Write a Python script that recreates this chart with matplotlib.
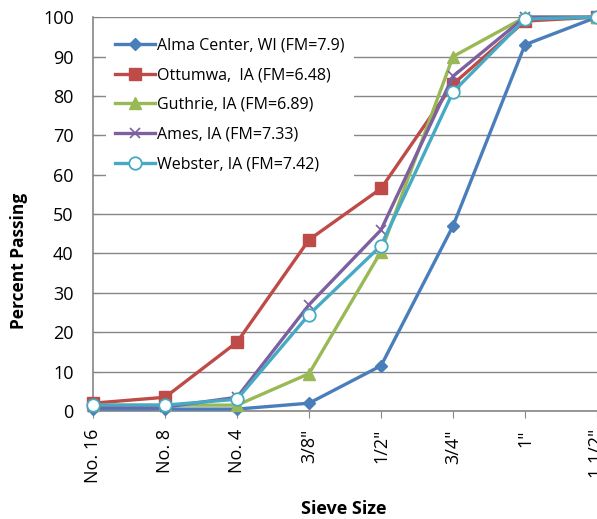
import matplotlib
matplotlib.use("Agg")
from matplotlib import pyplot as plt

plt.rcParams['font.family'] = ['Open Sans', 'DejaVu Sans']

sieves = ['No. 16', 'No. 8', 'No. 4', '3/8"', '1/2"', '3/4"', '1"', '1 1/2"']

alma = [0.5, 0.5, 0.5, 2, 11.5, 47, 93, 100]
ottumwa = [2, 3.5, 17.5, 43.5, 56.5, 83, 99, 100]
guthrie = [1.5, 1.5, 1.5, 9.5, 40.5, 90, 100, 100]
ames = [1, 1, 3.5, 27, 46, 85, 100, 100]
webster = [1.5, 1.5, 3, 24.5, 42, 81, 99.5, 100]

series_names = ['Alma Center, WI (FM=7.9)', 'Ottumwa,  IA (FM=6.48)', 'Guthrie, IA (FM=6.89)',
                'Ames, IA (FM=7.33)', 'Webster, IA (FM=7.42)']

fig = plt.figure(figsize=(5.97, 5.19), dpi=100)
ax = fig.add_axes([0.156, 0.208, 0.844, 0.759])

x = list(range(len(sieves)))
lw = 2.4
kw = dict(lw=lw, zorder=3, clip_on=False)
ax.plot(x, alma, color='#4A7EBB', marker='D', ms=6.5, label=series_names[0], **kw)
ax.plot(x, ottumwa, color='#BE4B48', marker='s', ms=8.5, label=series_names[1], **kw)
ax.plot(x, guthrie, color='#98B954', marker='^', ms=8.5, label=series_names[2], **kw)
ax.plot(x, ames, color='#7D60A0', marker='x', ms=7, mew=1.2, label=series_names[3], **kw)
ax.plot(x, webster, color='#46AAC5', marker='o', ms=9, mfc='white', mew=1.3,
        label=series_names[4], **kw)

ax.set_xlim(0, 7)
ax.set_ylim(0, 100)
ax.set_yticks(range(0, 101, 10))
ax.set_xticks(x)
ax.set_xticklabels(sieves, rotation=90, fontsize=13)
ax.tick_params(axis='y', direction='in', length=5, pad=14, labelsize=13, color='#868686')
ax.tick_params(axis='x', direction='out', length=5, pad=8, color='#868686')

ax.grid(axis='y', color='#868686', lw=1)
ax.set_axisbelow(True)
for s in ['top', 'right']:
    ax.spines[s].set_visible(False)
for s in ['left', 'bottom']:
    ax.spines[s].set_color('#868686')
    ax.spines[s].set_linewidth(1.2)

ax.set_xlabel('Sieve Size', fontsize=13, fontweight='bold')
ax.xaxis.set_label_coords(0.498, -0.226)
ax.set_ylabel('Percent Passing', fontsize=12.5, fontweight='bold')
ax.yaxis.set_label_coords(-0.129, 0.38)

leg = ax.legend(loc='upper left', bbox_to_anchor=(0.01, 0.99), fontsize=11.5, frameon=True,
                handlelength=2.5, labelspacing=0.85, borderpad=0.55, handletextpad=0.15)
leg.get_frame().set_facecolor('white')
leg.get_frame().set_edgecolor('none')
leg.get_frame().set_alpha(1)
leg.set_zorder(2.5)

fig.savefig('out.png', dpi=100)
